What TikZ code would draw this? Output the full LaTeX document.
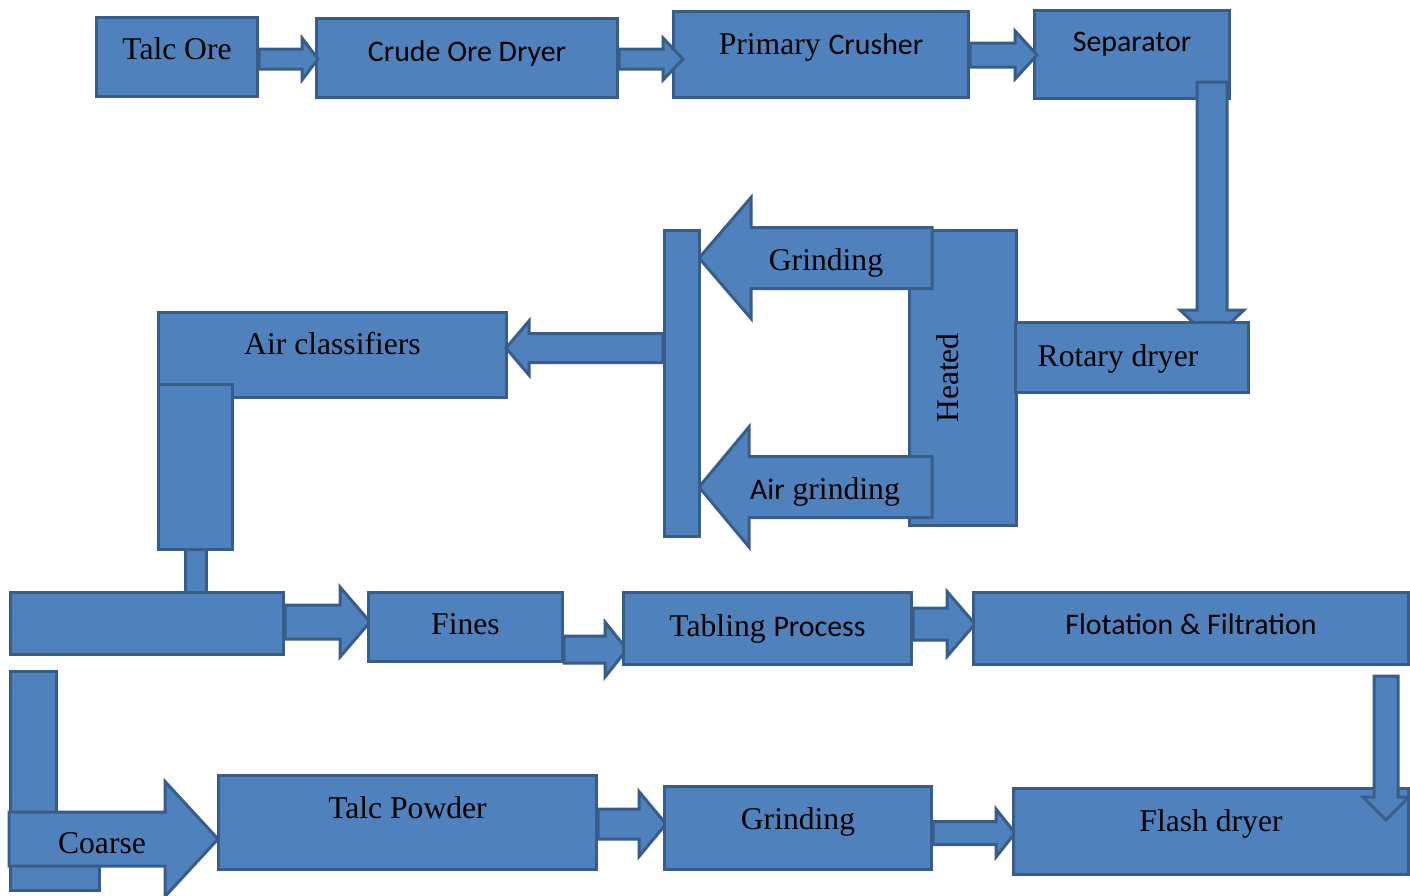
\documentclass[tikz,border=0pt]{standalone}
\usepackage{fontspec}
\setmainfont{Liberation Serif}
\newfontfamily\calibri{Carlito}
\definecolor{Fill}{RGB}{79,129,189}
\definecolor{Edge}{RGB}{56,93,138}
\newcommand{\cb}[1]{{\calibri\fontsize{17}{20}\selectfont #1}}
\newcommand{\up}[2]{\raisebox{#1}[0pt][0pt]{#2}}
% block arrow: start, angle, length, shaft half, head half, head length
\newcommand{\blockarrow}[6]{\draw[a,shift={#1},rotate=#2] (0,-#4)--({#3-#6},-#4)--({#3-#6},-#5)--(#3,0)--({#3-#6},#5)--({#3-#6},#4)--(0,#4)--cycle;}

\begin{document}
\begin{tikzpicture}[x=.02cm,y=-.02cm,
 b/.style={draw=Edge,fill=Fill,line width=.06cm,inner sep=0,anchor=north west,font=\fontsize{18}{21}\selectfont},
 a/.style={draw=Edge,fill=Fill,line width=.06cm},
 sz/.style 2 args={minimum width=#1*.02cm,minimum height=#2*.02cm},
 t/.style={anchor=base,inner sep=0,font=\fontsize{18}{21}\selectfont}]
\useasboundingbox (0,0) rectangle (1410,896);
% top row
\node[b,sz={161}{79}] (talc) at (95,16) {\up{-.05cm}{Talc Ore}};
\node[b,sz={301}{79}] (crude) at (315,17) {\up{-.07cm}{\cb{Crude Ore Dryer}}};
\node[b,sz={295}{86}] (primary) at (672,10) {\up{0cm}{Primary \cb{Crusher}}};
\node[b,sz={195}{88}] (sep) at (1033,9) {\up{.06cm}{\cb{Separator}}};
\blockarrow{(talc.east|-0,59)}{0}{59}{10}{21}{16}
\blockarrow{(crude.east|-0,59)}{0}{64}{10}{21}{20}
\blockarrow{(primary.east|-0,55)}{0}{67}{12}{24}{22}
\blockarrow{(1212,82)}{-90}{258}{15}{32}{30}
% middle
\node[b,sz={107}{295}] (heated) at (908,229) {\rotatebox{90}{\up{.09cm}{Heated}}};
\node[b,sz={233}{70}] (rotary) at (1014,321) {\up{-.17cm}{Rotary dryer}\kern.56cm};
\blockarrow{(932,258)}{180}{233}{30.5}{60.5}{52}
\node[t] (lgrind) at (826,270) {Grinding};
\blockarrow{(932,487)}{180}{233}{30.5}{60}{50}
\node[t] (lair) at (825,499) {\cb{Air} grinding};
\node[b,sz={35}{306}] (bar) at (663,229) {};
\node[b,sz={348}{85}] (aircl) at (157,311) {\up{.01cm}{Air classifiers}};
\blockarrow{(bar.west|-0,348)}{180}{157}{14.5}{27}{23}
\node[b,sz={74}{165}] (down) at (157,383) {};
\node[b,sz={21}{44}] (stem) at (184,548) {};
\node[b,sz={273}{62}] (split) at (9,591) {};
% fines row
\blockarrow{(split.east|-0,622)}{0}{85}{17}{35}{30}
\node[b,sz={194}{69}] (fines) at (367,591) {\up{-.15cm}{Fines}};
\blockarrow{(fines.east|-0,649.5)}{0}{63}{13.5}{27.5}{22}
\node[b,sz={288}{72}] (tabling) at (622,591) {\up{-.16cm}{Tabling \cb{Process}}};
\blockarrow{(tabling.east|-0,624)}{0}{62}{16}{32.5}{28}
\node[b,sz={435}{72}] (flot) at (972,591) {\up{-.12cm}{\cb{Flotation \& Filtration}}};
% bottom row
\node[b,sz={46}{200}] (cbar) at (9,670) {};
\node[b,sz={89}{28}] (cfoot) at (9,861) {};
\blockarrow{(cbar.west|-0,839)}{0}{209}{27}{57.5}{53}
\node[t] (lcoarse) at (102,853) {Coarse};
\node[b,sz={378}{94}] (powder) at (217,774) {\up{.08cm}{Talc Powder}};
\blockarrow{(powder.east|-0,824)}{0}{68}{15}{32.5}{27}
\node[b,sz={267}{83}] (grind) at (663,785) {\up{-.03cm}{Grinding}};
\blockarrow{(grind.east|-0,833)}{0}{82}{11.5}{24}{19}
\node[b,sz={395}{86}] (flash) at (1012,787) {\up{0cm}{Flash dryer}};
\blockarrow{(1386,676)}{-90}{144}{12}{23}{23}
\end{tikzpicture}
\end{document}
